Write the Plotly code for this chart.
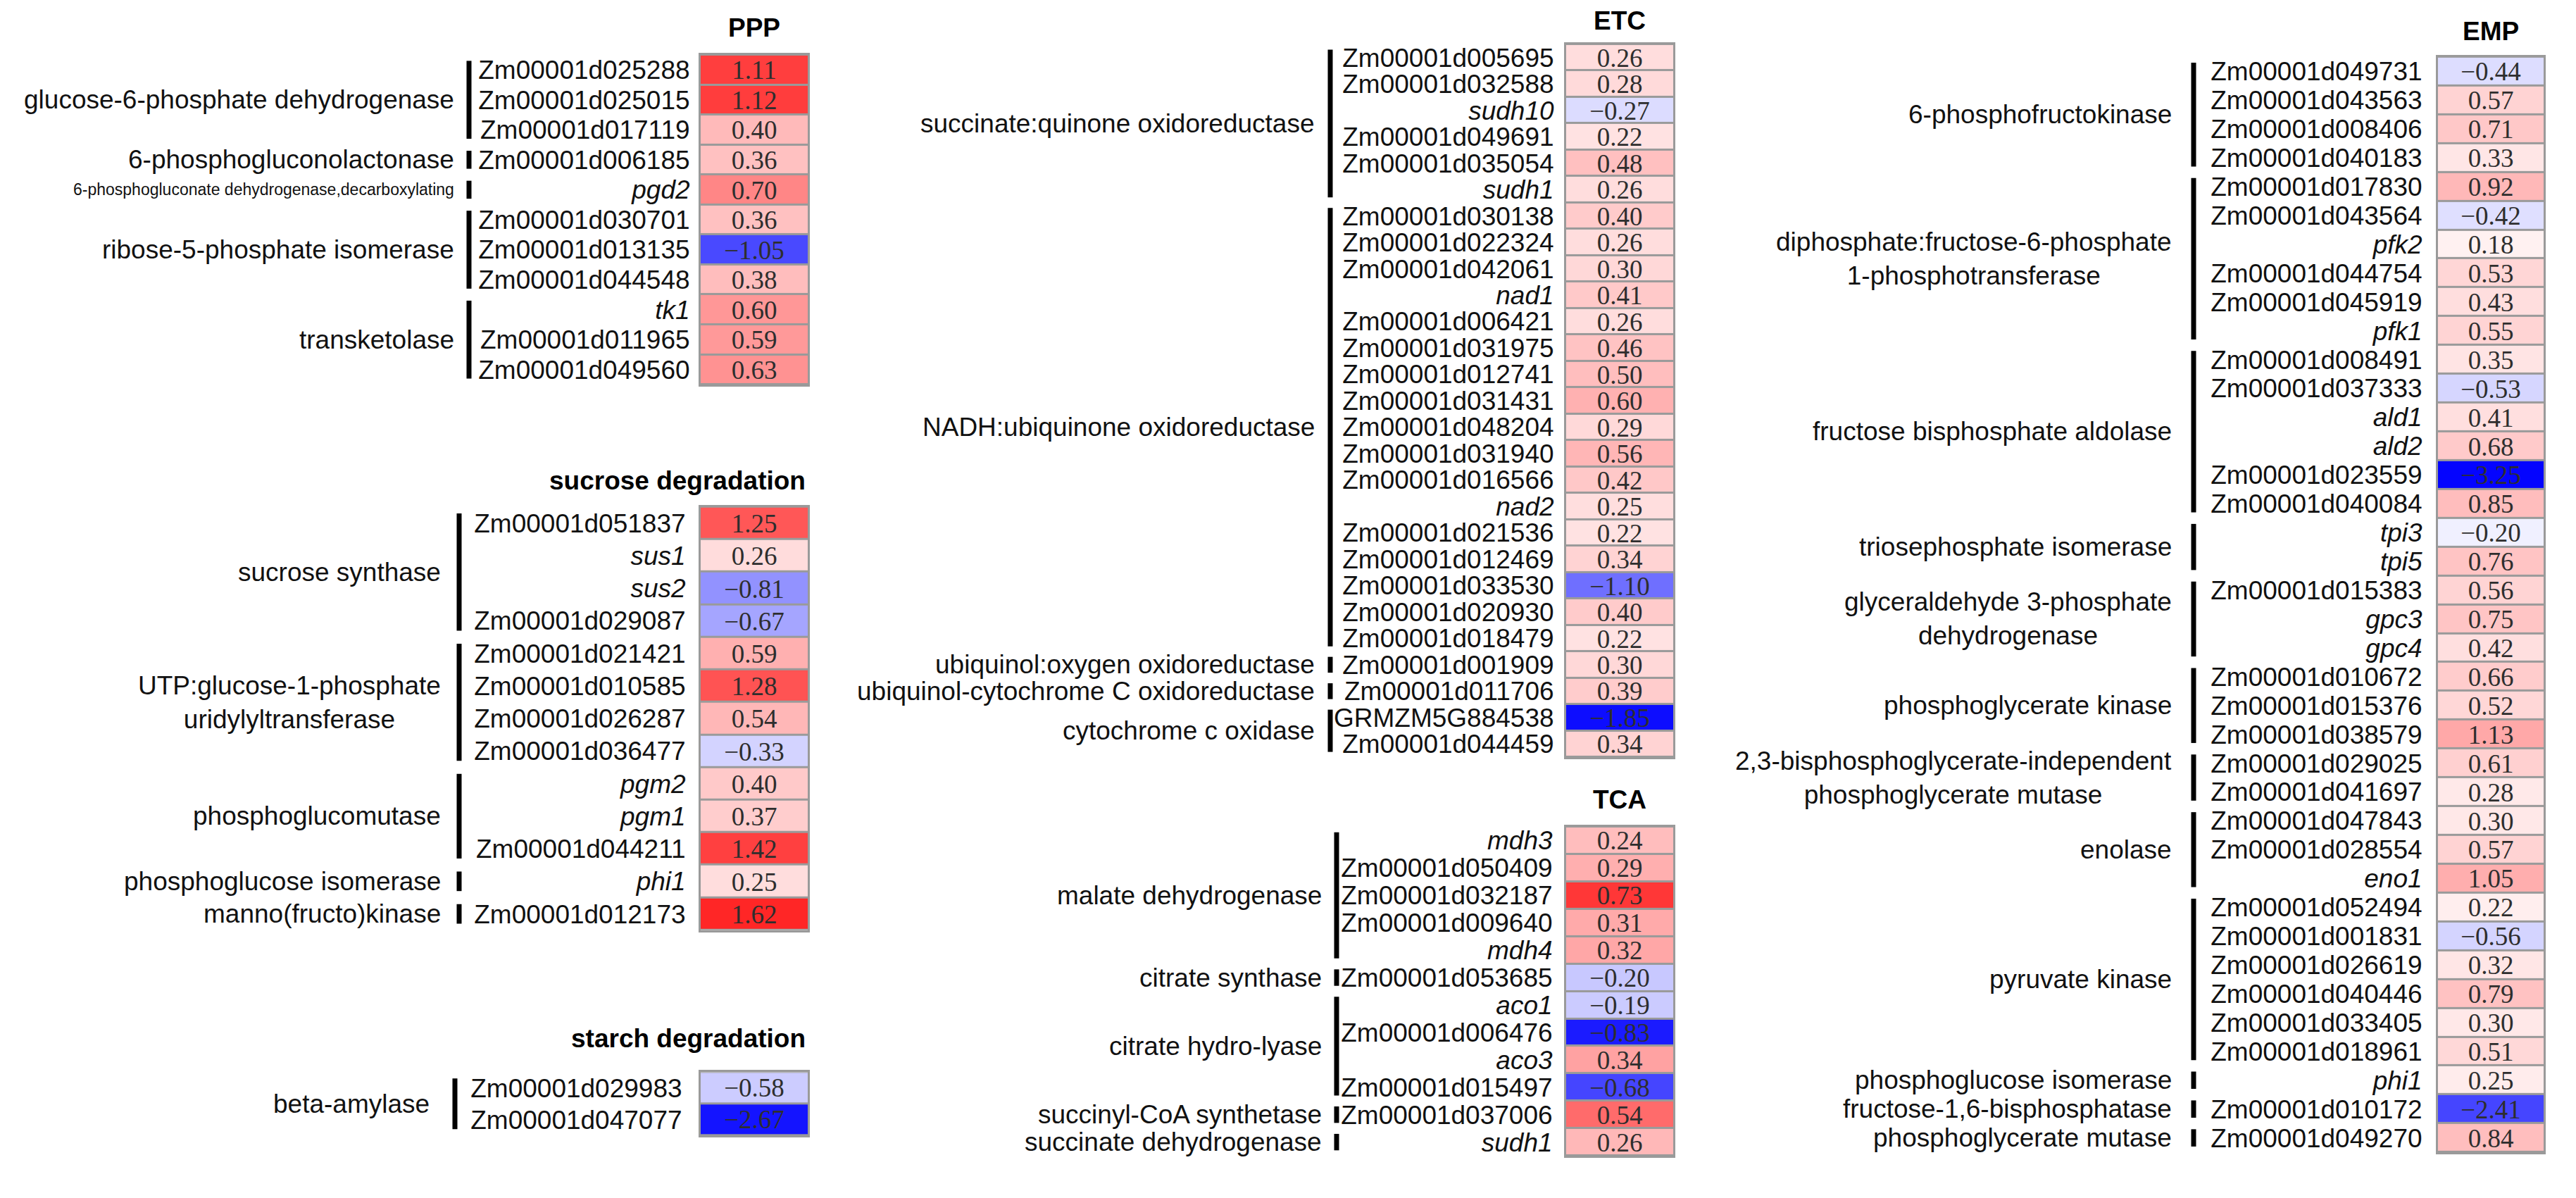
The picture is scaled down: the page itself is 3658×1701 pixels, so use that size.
import plotly.graph_objects as go

# ---------------- data ----------------
ppp_genes = ["Zm00001d025288", "Zm00001d025015", "Zm00001d017119", "Zm00001d006185", "pgd2",
             "Zm00001d030701", "Zm00001d013135", "Zm00001d044548", "tk1", "Zm00001d011965",
             "Zm00001d049560"]
ppp_values = [1.11, 1.12, 0.40, 0.36, 0.70, 0.36, -1.05, 0.38, 0.60, 0.59, 0.63]
ppp_groups = ["glucose-6-phosphate dehydrogenase", "6-phosphogluconolactonase",
              "6-phosphogluconate dehydrogenase,decarboxylating", "ribose-5-phosphate isomerase",
              "transketolase"]
ppp_group_sizes = [3, 1, 1, 3, 3]

suc_genes = ["Zm00001d051837", "sus1", "sus2", "Zm00001d029087", "Zm00001d021421",
             "Zm00001d010585", "Zm00001d026287", "Zm00001d036477", "pgm2", "pgm1",
             "Zm00001d044211", "phi1", "Zm00001d012173"]
suc_values = [1.25, 0.26, -0.81, -0.67, 0.59, 1.28, 0.54, -0.33, 0.40, 0.37, 1.42, 0.25, 1.62]
suc_groups = ["sucrose synthase", "UTP:glucose-1-phosphate<br>uridylyltransferase",
              "phosphoglucomutase", "phosphoglucose isomerase", "manno(fructo)kinase"]
suc_group_sizes = [4, 4, 3, 1, 1]

sta_genes = ["Zm00001d029983", "Zm00001d047077"]
sta_values = [-0.58, -2.67]
sta_groups = ["beta-amylase"]
sta_group_sizes = [2]

etc_genes = ["Zm00001d005695", "Zm00001d032588", "sudh10", "Zm00001d049691", "Zm00001d035054",
             "sudh1", "Zm00001d030138", "Zm00001d022324", "Zm00001d042061", "nad1",
             "Zm00001d006421", "Zm00001d031975", "Zm00001d012741", "Zm00001d031431",
             "Zm00001d048204", "Zm00001d031940", "Zm00001d016566", "nad2", "Zm00001d021536",
             "Zm00001d012469", "Zm00001d033530", "Zm00001d020930", "Zm00001d018479",
             "Zm00001d001909", "Zm00001d011706", "GRMZM5G884538", "Zm00001d044459"]
etc_values = [0.26, 0.28, -0.27, 0.22, 0.48, 0.26, 0.40, 0.26, 0.30, 0.41, 0.26, 0.46, 0.50,
              0.60, 0.29, 0.56, 0.42, 0.25, 0.22, 0.34, -1.10, 0.40, 0.22, 0.30, 0.39, -1.85, 0.34]
etc_groups = ["succinate:quinone oxidoreductase", "NADH:ubiquinone oxidoreductase",
              "ubiquinol:oxygen oxidoreductase", "ubiquinol-cytochrome C oxidoreductase",
              "cytochrome c oxidase"]
etc_group_sizes = [6, 17, 1, 1, 2]

tca_genes = ["mdh3", "Zm00001d050409", "Zm00001d032187", "Zm00001d009640", "mdh4",
             "Zm00001d053685", "aco1", "Zm00001d006476", "aco3", "Zm00001d015497",
             "Zm00001d037006", "sudh1"]
tca_values = [0.24, 0.29, 0.73, 0.31, 0.32, -0.20, -0.19, -0.83, 0.34, -0.68, 0.54, 0.26]
tca_groups = ["malate dehydrogenase", "citrate synthase", "citrate hydro-lyase",
              "succinyl-CoA synthetase", "succinate dehydrogenase"]
tca_group_sizes = [5, 1, 4, 1, 1]

emp_genes = ["Zm00001d049731", "Zm00001d043563", "Zm00001d008406", "Zm00001d040183",
             "Zm00001d017830", "Zm00001d043564", "pfk2", "Zm00001d044754", "Zm00001d045919",
             "pfk1", "Zm00001d008491", "Zm00001d037333", "ald1", "ald2", "Zm00001d023559",
             "Zm00001d040084", "tpi3", "tpi5", "Zm00001d015383", "gpc3", "gpc4",
             "Zm00001d010672", "Zm00001d015376", "Zm00001d038579", "Zm00001d029025",
             "Zm00001d041697", "Zm00001d047843", "Zm00001d028554", "eno1", "Zm00001d052494",
             "Zm00001d001831", "Zm00001d026619", "Zm00001d040446", "Zm00001d033405",
             "Zm00001d018961", "phi1", "Zm00001d010172", "Zm00001d049270"]
emp_values = [-0.44, 0.57, 0.71, 0.33, 0.92, -0.42, 0.18, 0.53, 0.43, 0.55, 0.35, -0.53, 0.41,
              0.68, -3.25, 0.85, -0.20, 0.76, 0.56, 0.75, 0.42, 0.66, 0.52, 1.13, 0.61, 0.28,
              0.30, 0.57, 1.05, 0.22, -0.56, 0.32, 0.79, 0.30, 0.51, 0.25, -2.41, 0.84]
emp_groups = ["6-phosphofructokinase", "diphosphate:fructose-6-phosphate<br>1-phosphotransferase",
              "fructose bisphosphate aldolase", "triosephosphate isomerase",
              "glyceraldehyde 3-phosphate<br>dehydrogenase", "phosphoglycerate kinase",
              "2,3-bisphosphoglycerate-independent<br>phosphoglycerate mutase", "enolase",
              "pyruvate kinase", "phosphoglucose isomerase", "fructose-1,6-bisphosphatase",
              "phosphoglycerate mutase"]
emp_group_sizes = [4, 6, 6, 2, 3, 3, 2, 3, 6, 1, 1, 1]

panel_titles = ["PPP", "sucrose degradation", "starch degradation", "ETC", "TCA", "EMP"]
panel_scale_max = [1.47, 1.9, 2.9, 1.95, 0.93, 3.3]

# ---------------- layout (reference pixel positions) ----------------
OFF = 8  # default page body margin
FW, FH = 3658 - 2 * OFF, 1701 - 2 * OFF

def px(x):
    return (x - OFF) / FW

def py(y):
    return 1 - (y - OFF) / FH

panel_boxes = [
    # cell x0, x1, y0, y1, bar x, group-label right x, gene gap, title x, title y, title anchor
    dict(x0=995, x1=1147, y0=77, y1=546, bar=666, lab=647, gap=8, tx=1071, ty=39, ta="center"),
    dict(x0=995, x1=1147, y0=720, y1=1322, bar=652, lab=628, gap=14, tx=1146, ty=683, ta="right"),
    dict(x0=995, x1=1147, y0=1524, y1=1614, bar=646, lab=612, gap=19, tx=1146, ty=1476, ta="right"),
    dict(x0=2224, x1=2376, y0=62, y1=1076, bar=1889, lab=1869, gap=10, tx=2300, ty=29, ta="center"),
    dict(x0=2224, x1=2376, y0=1175, y1=1643, bar=1898, lab=1879, gap=12, tx=2300, ty=1137, ta="center"),
    dict(x0=3462, x1=3612, y0=80, y1=1638, bar=3115, lab=3086, gap=15, tx=3537, ty=44, ta="center"),
]

panels = [
    (ppp_genes, ppp_values, ppp_groups, ppp_group_sizes),
    (suc_genes, suc_values, suc_groups, suc_group_sizes),
    (sta_genes, sta_values, sta_groups, sta_group_sizes),
    (etc_genes, etc_values, etc_groups, etc_group_sizes),
    (tca_genes, tca_values, tca_groups, tca_group_sizes),
    (emp_genes, emp_values, emp_groups, emp_group_sizes),
]

SANS = "Liberation Sans, Arial, Helvetica, sans-serif"
SERIF = "Liberation Serif, Times New Roman, serif"
FS = 37
small_label_size = {"6-phosphogluconate dehydrogenase,decarboxylating": 23}
BORDER = "#9a9a9a"
colorscale = [[0.0, "#0000ff"], [0.5, "#ffffff"], [1.0, "#ff0000"]]


def fmt_val(v):
    s = f"{v:.2f}"
    return s.replace("-", "\u2212")


def fmt_gene(g):
    if g.startswith("Zm") or g.startswith("GRMZM"):
        return g
    return f"<i>{g}</i>"


fig = go.Figure()
shapes = []
annotations = []

for k, ((genes, vals, groups, sizes), box, title, zm) in enumerate(
        zip(panels, panel_boxes, panel_titles, panel_scale_max), start=1):
    n = len(genes)
    xa = "x" if k == 1 else f"x{k}"
    ya = "y" if k == 1 else f"y{k}"
    fig.add_trace(go.Heatmap(
        z=[[v] for v in vals],
        x=[0],
        y=list(range(n)),
        text=[[fmt_val(v)] for v in vals],
        texttemplate="%{text}",
        textfont=dict(family=SERIF, size=FS, color="#2e2e2e"),
        colorscale=colorscale,
        zmin=-zm, zmax=zm,
        showscale=False,
        ygap=3,
        hoverinfo="skip",
        xaxis=xa, yaxis=ya,
    ))
    xkey = "xaxis" if k == 1 else f"xaxis{k}"
    ykey = "yaxis" if k == 1 else f"yaxis{k}"
    fig.layout[xkey] = dict(
        domain=[px(box["x0"]), px(box["x1"])], anchor=ya, range=[-0.5, 0.5],
        showticklabels=False, ticks="", showgrid=False, zeroline=False,
        showline=True, mirror=True, linecolor=BORDER, linewidth=3, fixedrange=True,
    )
    fig.layout[ykey] = dict(
        domain=[py(box["y1"]), py(box["y0"])], anchor=xa, range=[n - 0.5, -0.5],
        tickmode="array", tickvals=list(range(n)), ticktext=[fmt_gene(g) for g in genes],
        tickfont=dict(family=SANS, size=FS, color="#111111"),
        ticks="outside", ticklen=max(box["gap"] - 3, 1), tickcolor="rgba(0,0,0,0)",
        showgrid=False, zeroline=False,
        showline=True, mirror=True, linecolor=BORDER, linewidth=3, fixedrange=True,
    )
    # group bars + labels
    start = 0
    for gname, gsize in zip(groups, sizes):
        first, last = start, start + gsize - 1
        shapes.append(dict(
            type="rect", xref="paper", yref=ya,
            x0=px(box["bar"] - 3.5), x1=px(box["bar"] + 3.5),
            y0=first - 0.3, y1=last + 0.3,
            fillcolor="#000000", line=dict(width=0), layer="above",
        ))
        annotations.append(dict(
            xref="paper", yref=ya, x=px(box["lab"]), y=(first + last) / 2,
            xanchor="right", yanchor="middle", align="center", showarrow=False,
            text=gname,
            font=dict(family=SANS, size=small_label_size.get(gname, FS), color="#111111"),
        ))
        start += gsize
    # panel title
    annotations.append(dict(
        xref="paper", yref="paper", x=px(box["tx"]), y=py(box["ty"]),
        xanchor=box["ta"], yanchor="middle", showarrow=False,
        text=f"<b>{title}</b>",
        font=dict(family=SANS, size=FS, color="#000000"),
    ))

fig.update_layout(
    width=FW, height=FH,
    margin=dict(l=0, r=0, t=0, b=0),
    paper_bgcolor="#ffffff",
    plot_bgcolor=BORDER,
    shapes=shapes,
    annotations=annotations,
    showlegend=False,
)

fig.write_html("out.html")
